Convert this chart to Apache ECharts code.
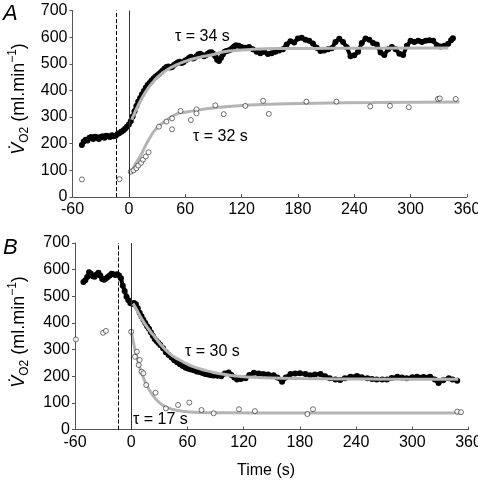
<!DOCTYPE html>
<html>
<head>
<meta charset="utf-8">
<script src="https://cdn.jsdelivr.net/npm/echarts@6/dist/echarts.min.js"></script>
<style>
html,body{margin:0;padding:0;background:#fff;}
#chart{width:478px;height:482px;}
</style>
</head>
<body>
<div id="chart"></div>
<script>
// ---------- data (time s, VO2 ml/min) ----------
const xTicks = [-60, 0, 60, 120, 180, 240, 300, 360];
const yTicks = [0, 100, 200, 300, 400, 500, 600, 700];
const markA = [-13, 0];   // dashed, solid
const markB = [-14, 0];
const tauLabels = ['\u03c4 = 34 s', '\u03c4 = 32 s', '\u03c4 = 30 s', '\u03c4 = 17 s'];

const aBreath = [[-50,195],[-48,208],[-46,215],[-44,212],[-42,222],[-40,225],[-38,218],[-36,226],[-34,224],[-32,218],[-30,225],[-28,228],[-26,222],[-24,230],[-22,228],[-20,225],[-18,232],[-16,228],[-14,230],[-12,236],[-10,240],[-8,245],[-6,250],[-4,256],[-2,264],[0,272],[2,284],[4,302],[6,322],[8,342],[10,358],[12,372],[14,386],[16,398],[18,410],[20,420],[22,428],[24,436],[26,444],[28,450],[30,456],[32,462],[34,468],[36,475],[38,482],[40,488],[42,490],[44,486],[46,488],[48,495],[50,500],[52,505],[54,508],[56,503],[58,506],[60,512],[62,516],[64,522],[66,526],[68,520],[70,523],[72,528],[74,536],[76,538],[78,533],[80,528],[82,532],[84,538],[86,542],[88,543],[90,538],[92,528],[94,515],[96,510],[98,522],[100,535],[102,545],[104,548],[106,550],[108,553],[110,558],[112,565],[114,570],[117,568],[120,563],[124,560],[128,563],[132,555],[136,545],[140,540],[144,545],[148,537],[152,540],[156,545],[160,550],[164,555],[168,572],[172,585],[176,580],[180,595],[184,598],[188,590],[192,586],[196,576],[200,560],[204,548],[208,550],[212,555],[216,558],[220,582],[224,594],[228,582],[232,562],[236,528],[240,532],[244,545],[248,578],[252,595],[256,590],[260,578],[264,572],[268,542],[272,533],[276,555],[280,563],[284,555],[288,538],[292,533],[296,568],[300,586],[304,582],[308,586],[312,582],[316,586],[320,588],[324,586],[328,570],[332,565],[336,568],[340,575],[343,588],[345,596]];
const aFitFast = [[3,290],[6,315],[10,345],[15,378],[20,406],[25,428],[30,448],[35,463],[40,476],[50,495],[60,509],[70,520],[80,528],[90,535],[100,544],[110,549],[130,554],[160,557],[220,558],[340,559]];
const aFitSlow = [[2,89],[5,110],[8,130],[12,152],[16,180],[20,208],[24,232],[28,252],[33,270],[40,288],[50,310],[60,318],[75,327],[90,334],[110,341],[150,348],[200,352],[260,355],[352,357]];
const aOpen = [[-50,66],[-10,67],[2,95],[5,100],[8,108],[10,118],[13,128],[15,140],[18,152],[21,168],[32,264],[40,283],[46,295],[46,254],[55,323],[66,289],[72,329],[72,314],[92,344],[101,311],[124,342],[143,361],[149,312],[189,358],[221,358],[257,340],[278,342],[298,337],[329,368],[331,370],[348,368]];

const bBreath = [[-51,554],[-49,560],[-47,572],[-45,590],[-43,585],[-41,575],[-39,573],[-37,582],[-35,588],[-33,578],[-31,565],[-29,562],[-27,567],[-25,572],[-23,578],[-21,585],[-19,583],[-17,580],[-15,583],[-13,578],[-11,568],[-9,540],[-7,520],[-5,498],[-3,485],[-1,475],[1,472],[3,475],[5,470],[7,455],[9,438],[11,425],[13,412],[15,400],[17,388],[19,378],[21,365],[23,352],[25,340],[27,332],[29,325],[31,317],[34,305],[37,290],[40,280],[43,270],[46,260],[49,252],[52,245],[55,238],[58,232],[61,228],[64,225],[67,222],[70,218],[73,216],[76,212],[79,208],[82,206],[85,204],[88,203],[92,202],[96,200],[100,210],[104,214],[107,205],[110,195],[113,188],[117,190],[122,192],[126,205],[131,213],[136,210],[141,208],[146,206],[152,204],[156,195],[161,179],[165,195],[170,208],[175,210],[180,211],[186,208],[191,204],[196,206],[202,208],[207,200],[212,192],[218,188],[223,186],[228,192],[234,198],[241,201],[246,196],[252,192],[257,190],[262,188],[268,188],[273,188],[278,193],[284,198],[289,195],[294,192],[300,196],[305,198],[312,197],[319,198],[324,188],[328,175],[333,185],[339,192],[343,188],[348,183]];
const bFitSlow = [[2,473],[5,455],[9,429],[13,405],[17,384],[21,365],[25,348],[30,325],[35,305],[41,285],[46,272],[52,260],[59,247],[66,236],[73,228],[80,221],[88,214],[95,209],[105,204],[115,200],[130,196],[150,193],[180,191],[220,190],[280,189],[349,189]];
const bFitFast = [[0,367],[2,335],[4,300],[6,272],[8,245],[10,222],[13,195],[16,170],[20,145],[24,124],[28,108],[33,93],[38,83],[45,75],[52,70],[62,66],[75,64],[95,63],[130,62],[200,62],[280,62],[354,62]];
const bOpen = [[-59,338],[-30,363],[-27,370],[0,367],[4,273],[6,292],[8,242],[9,261],[11,217],[13,211],[16,167],[26,138],[37,79],[50,92],[62,101],[75,73],[88,61],[115,76],[132,69],[188,58],[194,76],[348,67],[352,65]];

// ---------- chart ----------
const FONT = '"Liberation Sans", Arial, Helvetica, sans-serif';
const AXIS_COL = '#555';
const GRAY = '#b4b4b4';

function xAx(gi) {
  return {
    type: 'value', gridIndex: gi, min: xTicks[0], max: xTicks[xTicks.length-1], interval: 60,
    axisLine: {show: true, onZero: false, lineStyle: {color: AXIS_COL, width: 1}},
    axisTick: {show: true, inside: true, length: 3, lineStyle: {color: AXIS_COL}},
    splitLine: {show: false},
    axisLabel: {color: '#000', fontSize: 16, fontFamily: FONT, margin: 5}
  };
}
function yAx(gi) {
  return {
    type: 'value', gridIndex: gi, min: yTicks[0], max: yTicks[yTicks.length-1], interval: 100,
    axisLine: {show: true, onZero: false, lineStyle: {color: AXIS_COL, width: 1}},
    axisTick: {show: true, inside: false, length: 3, lineStyle: {color: AXIS_COL}},
    splitLine: {show: false},
    axisLabel: {color: '#000', fontSize: 16, fontFamily: FONT, margin: 5}
  };
}
function breath(data, gi) {
  return {type: 'line', xAxisIndex: gi, yAxisIndex: gi, data: data, symbol: 'circle', symbolSize: 6,
    showSymbol: true, itemStyle: {color: '#000'}, lineStyle: {color: '#000', width: 4},
    z: 2, silent: true, animation: false};
}
function fit(data, gi) {
  return {type: 'line', xAxisIndex: gi, yAxisIndex: gi, data: data, smooth: true, showSymbol: false,
    lineStyle: {color: GRAY, width: 3}, z: 3, silent: true, animation: false};
}
function open(data, gi) {
  return {type: 'scatter', xAxisIndex: gi, yAxisIndex: gi, data: data, symbol: 'circle', symbolSize: 5,
    itemStyle: {color: '#fff', borderColor: '#222', borderWidth: 0.8}, z: 4, silent: true, animation: false};
}
function marks(vals, gi) {
  return {type: 'line', xAxisIndex: gi, yAxisIndex: gi, data: [], silent: true, animation: false,
    markLine: {symbol: 'none', silent: true, animation: false, label: {show: false},
      data: [
        {xAxis: vals[0], lineStyle: {color: '#000', width: 1, type: [4, 2]}},
        {xAxis: vals[1], lineStyle: {color: '#333', width: 1, type: 'solid'}}
      ]}};
}
function tauText(txt, x, y) {
  return {type: 'text', x: x, y: y, silent: true,
    style: {text: txt, fontSize: 16, fontFamily: FONT, fill: '#000', align: 'left', verticalAlign: 'middle'}};
}
function yName(cx, cy) {
  return {type: 'text', x: cx, y: cy, rotation: Math.PI/2, silent: true,
    style: {
      text: '{v|V\u0307}{s|O2}{n| (ml.min}{p|\u22121}{n|)}',
      align: 'center', verticalAlign: 'middle', fill: '#000',
      rich: {
        v: {fontSize: 18, fontFamily: FONT, fontStyle: 'italic', lineHeight: 24, verticalAlign: 'middle'},
        s: {fontSize: 12, fontFamily: FONT, lineHeight: 24, verticalAlign: 'bottom'},
        n: {fontSize: 18, fontFamily: FONT, lineHeight: 24, verticalAlign: 'middle'},
        p: {fontSize: 12, fontFamily: FONT, lineHeight: 24, verticalAlign: 'top'}
      }
    }};
}

const chart = echarts.init(document.getElementById('chart'), null, {renderer: 'canvas'});
chart.setOption({
  animation: false,
  backgroundColor: '#fff',
  grid: [
    {left: 72.5, top: 10.5, width: 394.5, height: 186.5, containLabel: false, outerBoundsMode: 'none'},
    {left: 75, top: 243, width: 393.5, height: 186.5, containLabel: false, outerBoundsMode: 'none'}
  ],
  xAxis: [xAx(0), xAx(1)],
  yAxis: [yAx(0), yAx(1)],
  series: [
    marks(markA, 0), breath(aBreath, 0), fit(aFitFast, 0), fit(aFitSlow, 0), open(aOpen, 0),
    marks(markB, 1), breath(bBreath, 1), fit(bFitSlow, 1), fit(bFitFast, 1), open(bOpen, 1)
  ],
  graphic: [
    {type: 'text', x: 3, y: 14, silent: true, style: {text: 'A', fontSize: 22, fontStyle: 'italic', fontFamily: FONT, fill: '#000', align: 'left', verticalAlign: 'middle'}},
    {type: 'text', x: 3, y: 248, silent: true, style: {text: 'B', fontSize: 22, fontStyle: 'italic', fontFamily: FONT, fill: '#000', align: 'left', verticalAlign: 'middle'}},
    tauText(tauLabels[0], 175, 37),
    tauText(tauLabels[1], 193, 137),
    tauText(tauLabels[2], 185, 352),
    tauText(tauLabels[3], 133, 420),
    {type: 'text', x: 266, y: 471, silent: true, style: {text: 'Time (s)', fontSize: 16, fontFamily: FONT, fill: '#000', align: 'center', verticalAlign: 'middle'}},
    yName(19, 99),
    yName(19, 332)
  ]
});
</script>
</body>
</html>
